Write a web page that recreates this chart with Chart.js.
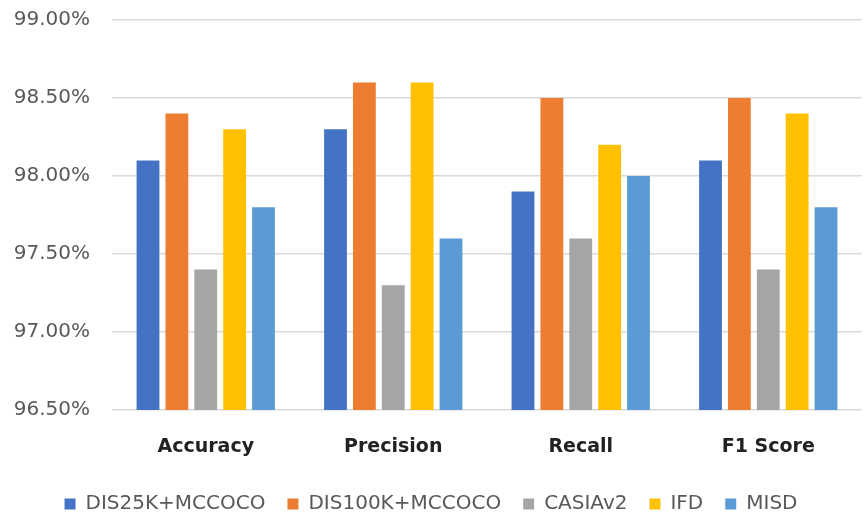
<!DOCTYPE html>
<html><head><meta charset="utf-8">
<script src="https://cdn.jsdelivr.net/npm/chart.js@4"></script>
<style>html,body{margin:0;padding:0;background:#fff}canvas{display:block}</style>
</head><body>
<canvas id="c" width="866" height="516"></canvas>
<script>
const categories = ["Accuracy", "Precision", "Recall", "F1 Score"];
const seriesNames = ["DIS25K+MCCOCO", "DIS100K+MCCOCO", "CASIAv2", "IFD", "MISD"];
const dis25k = [98.1, 98.3, 97.9, 98.1];
const dis100k = [98.4, 98.6, 98.5, 98.5];
const casia = [97.4, 97.3, 97.6, 97.4];
const ifd = [98.3, 98.6, 98.2, 98.4];
const misd = [97.8, 97.6, 98.0, 97.8];
const yTicks = [96.5, 97.0, 97.5, 98.0, 98.5, 99.0];

const colors = ["#4472C4", "#ED7D31", "#A5A5A5", "#FFC000", "#5B9BD5"];
const values = [dis25k, dis100k, casia, ifd, misd];

new Chart(document.getElementById('c'), {
  type: 'bar',
  data: {
    labels: categories,
    datasets: seriesNames.map((n, i) => ({
      label: n, data: values[i], backgroundColor: colors[i],
      barPercentage: 0.79, categoryPercentage: 0.77
    }))
  },
  options: {
    responsive: false, animation: false,
    layout: { padding: { top: 20, right: 4, left: 0, bottom: -8 } },
    plugins: {
      legend: {
        position: 'bottom',
        labels: { boxWidth: 11, boxHeight: 11, padding: 22, color: '#595959',
          font: { family: 'DejaVu Sans', size: 20 } }
      },
      tooltip: { enabled: false }
    },
    scales: {
      x: {
        grid: { display: false }, border: { display: false },
        afterFit: s => { s.height = 62; s.paddingTop = 0; s.paddingBottom = 0; },
        ticks: { color: '#222', padding: 18, font: { family: 'DejaVu Sans', size: 19, weight: 'bold' } }
      },
      y: {
        min: 96.5, max: 99.0,
        afterBuildTicks: s => { s.ticks = yTicks.map(v => ({ value: v })); },
        afterFit: s => { s.width = 112; s.paddingTop = 0; s.paddingBottom = 0; },
        grid: { color: '#d9d9d9', lineWidth: 1.5, drawTicks: false },
        border: { display: false },
        ticks: { color: '#595959', padding: 22, font: { family: 'DejaVu Sans', size: 20 },
          callback: v => v.toFixed(2) + '%' }
      }
    }
  }
});
</script>
</body></html>
